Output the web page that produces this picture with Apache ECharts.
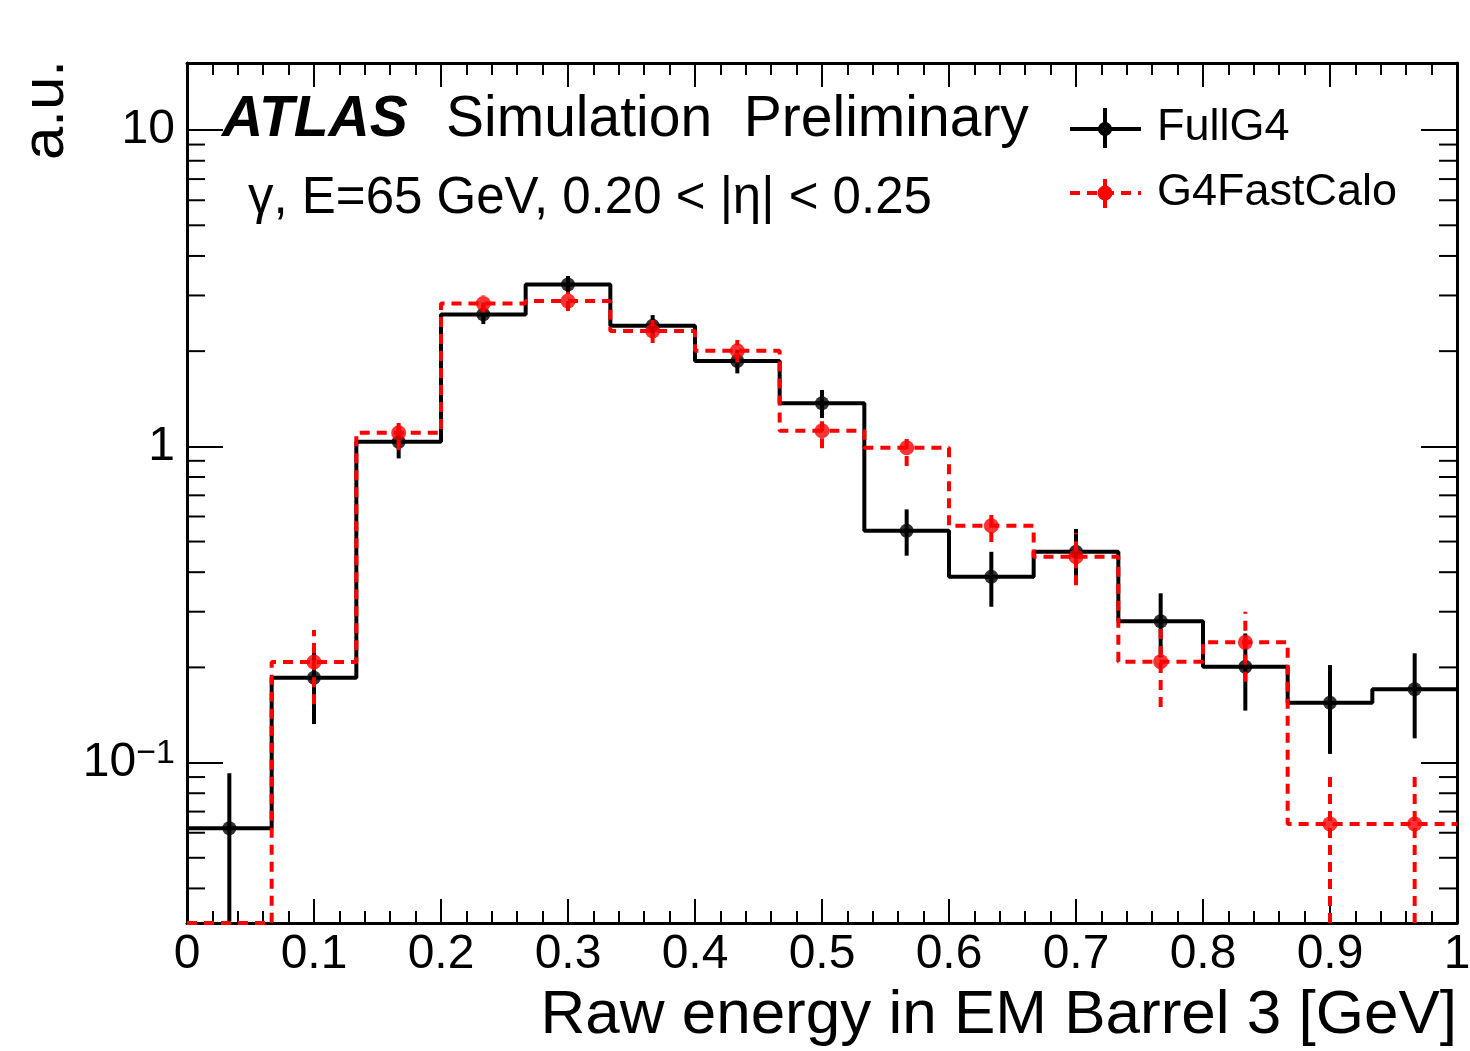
<!DOCTYPE html>
<html style="height: 100%;">
<head>
    <meta charset="UTF-8">
    <script src="https://cdn.jsdelivr.net/npm/echarts@6/dist/echarts.min.js"></script>
</head>
<body style="height: 100%; margin: 0; background: #fff;">
    <div id="chart" style="width: 1470px; height: 1051px;"></div>

    <script type="text/javascript">
        // histogram binning: 15 bins between 0 and 1 GeV
        var binEdges = [0, 1/15, 2/15, 3/15, 4/15, 5/15, 6/15, 7/15, 8/15, 9/15, 10/15, 11/15, 12/15, 13/15, 14/15, 1];

        // FullG4 (black) bin contents and error band (low / high)
        var fullG4 = [0.0620, 0.1855, 1.034, 2.614, 3.25, 2.406, 1.861, 1.368, 0.541, 0.387, 0.464, 0.280, 0.201, 0.1546, 0.1705];
        var fullG4Lo = [0.0315, 0.1324, 0.916, 2.436, 3.05, 2.21, 1.701, 1.229, 0.451, 0.311, 0.38, 0.215, 0.146, 0.1065, 0.1193];
        var fullG4Hi = [0.0925, 0.2383, 1.152, 2.79, 3.455, 2.601, 2.02, 1.507, 0.632, 0.464, 0.548, 0.343, 0.256, 0.2034, 0.2216];

        // G4FastCalo (red) bin contents and error band (low / high)
        var fastCalo = [0, 0.208, 1.104, 2.83, 2.88, 2.315, 2.005, 1.120, 0.990, 0.561, 0.448, 0.2085, 0.240, 0.0640, 0.0640];
        var fastCaloLo = [0, 0.153, 0.973, 2.65, 2.679, 2.121, 1.84, 0.9855, 0.866, 0.498, 0.364, 0.150, 0.180, 0, 0];
        var fastCaloHi = [0, 0.2625, 1.235, 3.008, 3.08, 2.51, 2.168, 1.255, 1.107, 0.624, 0.532, 0.267, 0.300, 0.0913, 0.0913];

        // minor ticks of the log y axis
        var yMinorTicks = [0.04, 0.05, 0.06, 0.07, 0.08, 0.09, 0.2, 0.3, 0.4, 0.5, 0.6, 0.7, 0.8, 0.9, 2, 3, 4, 5, 6, 7, 8, 9];

        var Y_MIN = 0.0311;
        var Y_MAX = 16.3;
        var FONT = 'Liberation Sans, Arial, Helvetica, sans-serif';

        // histogram outline: horizontal at each bin, vertical between bins
        function stepPoints(vals) {
            var pts = [];
            for (var i = 0; i < vals.length; i++) {
                var v = Math.max(vals[i], Y_MIN);
                pts.push([binEdges[i], v]);
                pts.push([binEdges[i + 1], v]);
            }
            return pts;
        }

        function centerPoints(vals) {
            var pts = [];
            for (var i = 0; i < vals.length; i++) {
                if (vals[i] > 0) pts.push([(binEdges[i] + binEdges[i + 1]) / 2, vals[i]]);
            }
            return pts;
        }

        function errorPoints(lo, hi) {
            var pts = [];
            for (var i = 0; i < lo.length; i++) {
                if (hi[i] > 0) pts.push([(binEdges[i] + binEdges[i + 1]) / 2, Math.max(lo[i], Y_MIN), hi[i]]);
            }
            return pts;
        }

        function errorBarRenderer(color, dash) {
            return function (params, api) {
                var x = api.value(0);
                var p1 = api.coord([x, api.value(1)]);
                var p2 = api.coord([x, api.value(2)]);
                return {
                    type: 'line',
                    shape: { x1: p1[0], y1: p1[1], x2: p2[0], y2: p2[1] },
                    style: { stroke: color, lineWidth: 4, lineDash: dash }
                };
            };
        }

        function renderMinorTick(params, api) {
            var cs = params.coordSys;
            var y = api.coord([0, api.value(1)])[1];
            return {
                type: 'group',
                children: [
                    { type: 'line', shape: { x1: cs.x, y1: y, x2: cs.x + 18, y2: y }, style: { stroke: '#000', lineWidth: 2 } },
                    { type: 'line', shape: { x1: cs.x + cs.width - 18, y1: y, x2: cs.x + cs.width, y2: y }, style: { stroke: '#000', lineWidth: 2 } }
                ]
            };
        }

        var frameLine = { show: true, onZero: false, lineStyle: { color: '#000', width: 3 } };
        var xTick = { show: true, inside: true, length: 24, lineStyle: { color: '#000', width: 2 } };
        var xMinor = { show: true, splitNumber: 5, length: 12, lineStyle: { color: '#000', width: 2 } };
        var yTick = { show: true, inside: true, length: 36, lineStyle: { color: '#000', width: 2 } };

        var chart = echarts.init(document.getElementById('chart'));

        var option = {
            backgroundColor: '#fff',
            animation: false,
            grid: { left: 187, right: 13, top: 63, bottom: 128, outerBoundsMode: 'none', containLabel: false },
            xAxis: [
                {
                    type: 'value', min: 0, max: 1, interval: 0.1, position: 'bottom',
                    axisLine: frameLine, axisTick: xTick, minorTick: xMinor,
                    splitLine: { show: false },
                    axisLabel: {
                        margin: 8, color: '#000', fontSize: 48, fontFamily: FONT,
                        formatter: function (v) { return String(Math.round(v * 10) / 10); }
                    }
                },
                {
                    type: 'value', min: 0, max: 1, interval: 0.1, position: 'top',
                    axisLine: frameLine, axisTick: xTick, minorTick: xMinor,
                    splitLine: { show: false }, axisLabel: { show: false }
                }
            ],
            yAxis: [
                {
                    type: 'log', logBase: 10, min: Y_MIN, max: Y_MAX, position: 'left',
                    axisLine: frameLine, axisTick: yTick,
                    splitLine: { show: false },
                    axisLabel: {
                        margin: 12, color: '#000', fontSize: 48, fontFamily: FONT,
                        showMinLabel: false, showMaxLabel: false,
                        formatter: function (v) {
                            var e = Math.round(Math.log10(v));
                            if (e === 0) return '1';
                            if (e === 1) return '10';
                            return '{base|10}{sup|' + String(e).replace('-', '\u2212') + '}';
                        },
                        rich: {
                            base: { fontSize: 48, fontFamily: FONT, color: '#000', lineHeight: 52 },
                            sup: { fontSize: 34, fontFamily: FONT, color: '#000', verticalAlign: 'top', lineHeight: 34 }
                        }
                    }
                },
                {
                    type: 'log', logBase: 10, min: Y_MIN, max: Y_MAX, position: 'right',
                    axisLine: frameLine, axisTick: yTick,
                    splitLine: { show: false }, axisLabel: { show: false }
                }
            ],
            series: [
                {
                    name: 'y minor ticks', type: 'custom', silent: true,
                    renderItem: renderMinorTick,
                    data: yMinorTicks.map(function (v) { return [0, v]; }),
                    z: 5
                },
                {
                    name: 'FullG4 hist', type: 'line', data: stepPoints(fullG4),
                    showSymbol: false, clip: false, silent: true,
                    lineStyle: { color: '#000', width: 4 }, z: 2
                },
                {
                    name: 'FullG4 err', type: 'custom', silent: true,
                    renderItem: errorBarRenderer('#000', null),
                    data: errorPoints(fullG4Lo, fullG4Hi), z: 3
                },
                {
                    name: 'FullG4', type: 'scatter', data: centerPoints(fullG4),
                    symbol: 'circle', symbolSize: 14, silent: true,
                    itemStyle: { color: '#000' }, z: 3
                },
                {
                    name: 'G4FastCalo hist', type: 'line', data: stepPoints(fastCalo),
                    showSymbol: false, clip: false, silent: true,
                    lineStyle: { color: '#ff0000', width: 4, type: [10, 7] }, z: 4
                },
                {
                    name: 'G4FastCalo err', type: 'custom', silent: true,
                    renderItem: errorBarRenderer('#ff0000', [10, 7]),
                    data: errorPoints(fastCaloLo, fastCaloHi), z: 4
                },
                {
                    name: 'G4FastCalo', type: 'scatter', data: centerPoints(fastCalo),
                    symbol: 'circle', symbolSize: 15, silent: true,
                    itemStyle: { color: '#ff0000' }, z: 4
                }
            ],
            graphic: [
                // axis titles
                {
                    type: 'text', x: 1457, y: 1016,
                    style: { text: 'Raw energy in EM Barrel 3 [GeV]', fill: '#000', font: '62px ' + FONT, align: 'right', verticalAlign: 'middle' }
                },
                {
                    type: 'text', x: 46, y: 60, rotation: Math.PI / 2,
                    style: { text: 'a.u.', fill: '#000', font: '60px ' + FONT, align: 'right', verticalAlign: 'middle' }
                },
                // ATLAS label
                {
                    type: 'text', x: 222, y: 120,
                    style: { text: 'ATLAS', fill: '#000', font: 'italic bold 57px ' + FONT, align: 'left', verticalAlign: 'middle' }
                },
                {
                    type: 'text', x: 446, y: 120,
                    style: { text: 'Simulation  Preliminary', fill: '#000', font: '57px ' + FONT, align: 'left', verticalAlign: 'middle' }
                },
                {
                    type: 'text', x: 248, y: 199,
                    style: { text: '\u03b3, E=65 GeV, 0.20 < |\u03b7| < 0.25', fill: '#000', font: '51px ' + FONT, align: 'left', verticalAlign: 'middle' }
                },
                // legend
                { type: 'line', shape: { x1: 1070, y1: 129, x2: 1141, y2: 129 }, style: { stroke: '#000', lineWidth: 4 } },
                { type: 'line', shape: { x1: 1105, y1: 108, x2: 1105, y2: 148 }, style: { stroke: '#000', lineWidth: 4 } },
                { type: 'circle', shape: { cx: 1105, cy: 129, r: 7 }, style: { fill: '#000' } },
                {
                    type: 'text', x: 1157, y: 128,
                    style: { text: 'FullG4', fill: '#000', font: '45px ' + FONT, align: 'left', verticalAlign: 'middle' }
                },
                { type: 'line', shape: { x1: 1070, y1: 193, x2: 1141, y2: 193 }, style: { stroke: '#ff0000', lineWidth: 4, lineDash: [10, 7] } },
                { type: 'line', shape: { x1: 1105, y1: 179, x2: 1105, y2: 208 }, style: { stroke: '#ff0000', lineWidth: 4 } },
                { type: 'circle', shape: { cx: 1105, cy: 193, r: 7.5 }, style: { fill: '#ff0000' } },
                {
                    type: 'text', x: 1157, y: 193,
                    style: { text: 'G4FastCalo', fill: '#000', font: '45px ' + FONT, align: 'left', verticalAlign: 'middle' }
                }
            ]
        };

        chart.setOption(option);
        window.addEventListener('resize', chart.resize);
    </script>
</body>
</html>
